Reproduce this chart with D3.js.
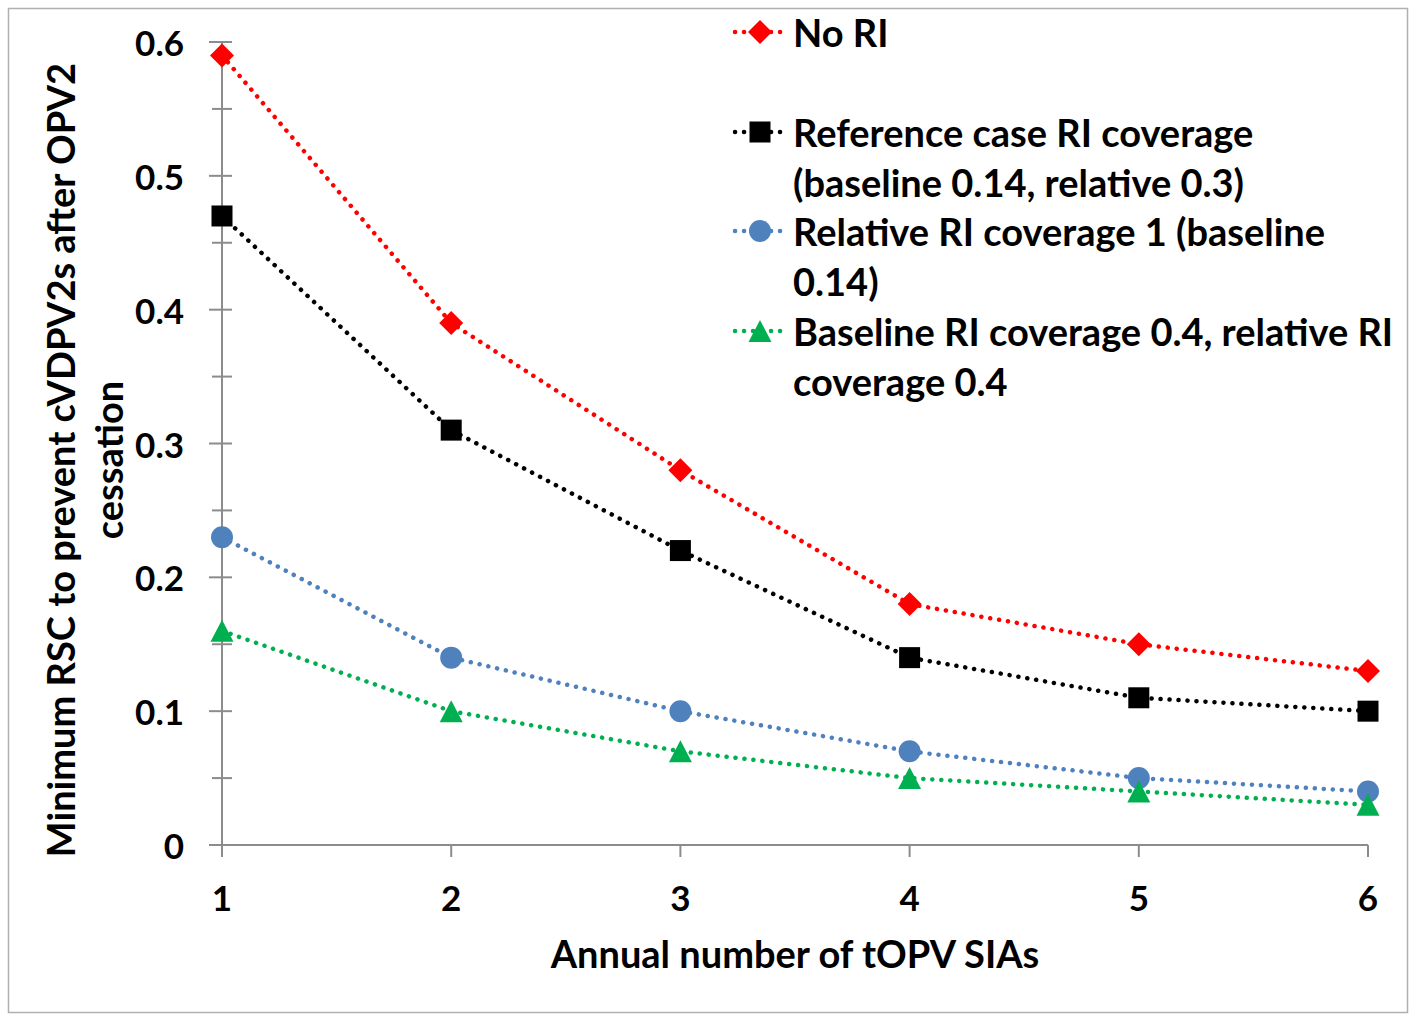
<!DOCTYPE html>
<html><head><meta charset="utf-8">
<script src="https://cdn.jsdelivr.net/npm/d3@7"></script>
<style>body{margin:0;background:#fff}svg text{font-family:Lato,"Open Sans",sans-serif;font-weight:bold;fill:#000}</style>
</head><body>
<svg id="c" width="1410" height="1016"></svg>
<script>
const xValues = [1, 2, 3, 4, 5, 6];
const noRI = [0.59, 0.39, 0.28, 0.18, 0.15, 0.13];
const referenceCase = [0.47, 0.31, 0.22, 0.14, 0.11, 0.10];
const relativeRI1 = [0.23, 0.14, 0.10, 0.07, 0.05, 0.04];
const baseline04 = [0.16, 0.10, 0.07, 0.05, 0.04, 0.03];
const yTicks = [0, 0.1, 0.2, 0.3, 0.4, 0.5, 0.6];
const yMinorTicks = [0.05, 0.15, 0.25, 0.35, 0.45, 0.55];
const seriesNames = [["No RI"], ["Reference case RI coverage", "(baseline 0.14, relative 0.3)"], ["Relative RI coverage 1 (baseline", "0.14)"], ["Baseline RI coverage 0.4, relative RI", "coverage 0.4"]];
const xTitle = "Annual number of tOPV SIAs";
const yTitle = ["Minimum RSC  to prevent cVDPV2s after OPV2", "cessation"];

const svg = d3.select("#c");
svg.append("rect").attr("x", 8.5).attr("y", 8.5).attr("width", 1399).attr("height", 1004)
  .attr("fill", "#fff").attr("stroke", "#b0b0b0").attr("stroke-width", 1.5);

const x = d3.scaleLinear().domain([1, 6]).range([222, 1368]);
const y = d3.scaleLinear().domain([0, 0.6]).range([845, 42]);
const axisColor = "#8c8c8c";

// y axis
const g = svg.append("g");
g.append("line").attr("x1", x(1)).attr("x2", x(1)).attr("y1", y(0.6)).attr("y2", 857).attr("stroke", axisColor).attr("stroke-width", 2);
g.selectAll(".ymaj").data(yTicks).join("line").attr("x1", 209).attr("x2", 232)
  .attr("y1", d => y(d)).attr("y2", d => y(d)).attr("stroke", axisColor).attr("stroke-width", 2);
g.selectAll(".ymin").data(yMinorTicks).join("line").attr("x1", 212).attr("x2", 232)
  .attr("y1", d => y(d)).attr("y2", d => y(d)).attr("stroke", axisColor).attr("stroke-width", 2);
g.selectAll(".ylab").data(yTicks).join("text").attr("x", 184).attr("y", d => y(d))
  .attr("text-anchor", "end").attr("dominant-baseline", "central").attr("font-size", 35)
  .text(d => d === 0 ? "0" : d3.format(".1f")(d));

// x axis
g.append("line").attr("x1", 209).attr("x2", x(6)).attr("y1", y(0)).attr("y2", y(0)).attr("stroke", axisColor).attr("stroke-width", 2);
g.selectAll(".xt").data(xValues).join("line").attr("x1", d => x(d)).attr("x2", d => x(d))
  .attr("y1", y(0)).attr("y2", 857).attr("stroke", axisColor).attr("stroke-width", 2);
g.selectAll(".xlab").data(xValues).join("text").attr("x", d => x(d)).attr("y", 897)
  .attr("text-anchor", "middle").attr("dominant-baseline", "central").attr("font-size", 35).text(d => d);

svg.append("text").attr("x", 795).attr("y", 953).attr("text-anchor", "middle").attr("dominant-baseline", "central")
  .attr("font-size", 38).text(xTitle);
const yt = svg.append("text").attr("transform", "translate(0,460) rotate(-90)").attr("text-anchor", "middle")
  .attr("font-size", 38).attr("dominant-baseline", "central");
yt.append("tspan").attr("x", 0).attr("y", 60).text(yTitle[0]);
yt.append("tspan").attr("x", 0).attr("y", 108).text(yTitle[1]);

const series = [
  {vals: noRI, color: "#FF0000", shape: "diamond"},
  {vals: referenceCase, color: "#000000", shape: "square"},
  {vals: relativeRI1, color: "#4F81BD", shape: "circle"},
  {vals: baseline04, color: "#00B050", shape: "triangle"}
];
function drawMarker(sel, shape, color, cx, cy) {
  if (shape === "diamond") sel.append("path").attr("d", `M${cx},${cy-12}L${cx+12},${cy}L${cx},${cy+12}L${cx-12},${cy}Z`).attr("fill", color);
  else if (shape === "square") sel.append("rect").attr("x", cx-10.5).attr("y", cy-10.5).attr("width", 21).attr("height", 21).attr("fill", color);
  else if (shape === "circle") sel.append("circle").attr("cx", cx).attr("cy", cy).attr("r", 11).attr("fill", color);
  else sel.append("path").attr("d", `M${cx},${cy-11}L${cx+11.5},${cy+11}L${cx-11.5},${cy+11}Z`).attr("fill", color);
}
const line = d3.line().x((d, i) => x(xValues[i])).y(d => y(d));
series.forEach(s => {
  svg.append("path").attr("d", line(s.vals)).attr("fill", "none").attr("stroke", s.color)
    .attr("stroke-width", 4.5).attr("stroke-linecap", "round").attr("stroke-dasharray", "0.1 8.9");
  const mg = svg.append("g");
  s.vals.forEach((v, i) => drawMarker(mg, s.shape, s.color, x(xValues[i]), y(v)));
});

// legend
const legendY = [32, 132, 231, 331];
series.forEach((s, i) => {
  const ly = legendY[i];
  svg.append("line").attr("x1", 735).attr("x2", 781).attr("y1", ly).attr("y2", ly).attr("stroke", s.color)
    .attr("stroke-width", 4.5).attr("stroke-linecap", "round").attr("stroke-dasharray", "0.1 8.9");
  drawMarker(svg, s.shape, s.color, 760, ly);
  seriesNames[i].forEach((t, j) => {
    svg.append("text").attr("x", 793).attr("y", ly + j * 50).attr("dominant-baseline", "central").attr("font-size", 38).text(t);
  });
});
</script>
</body></html>
